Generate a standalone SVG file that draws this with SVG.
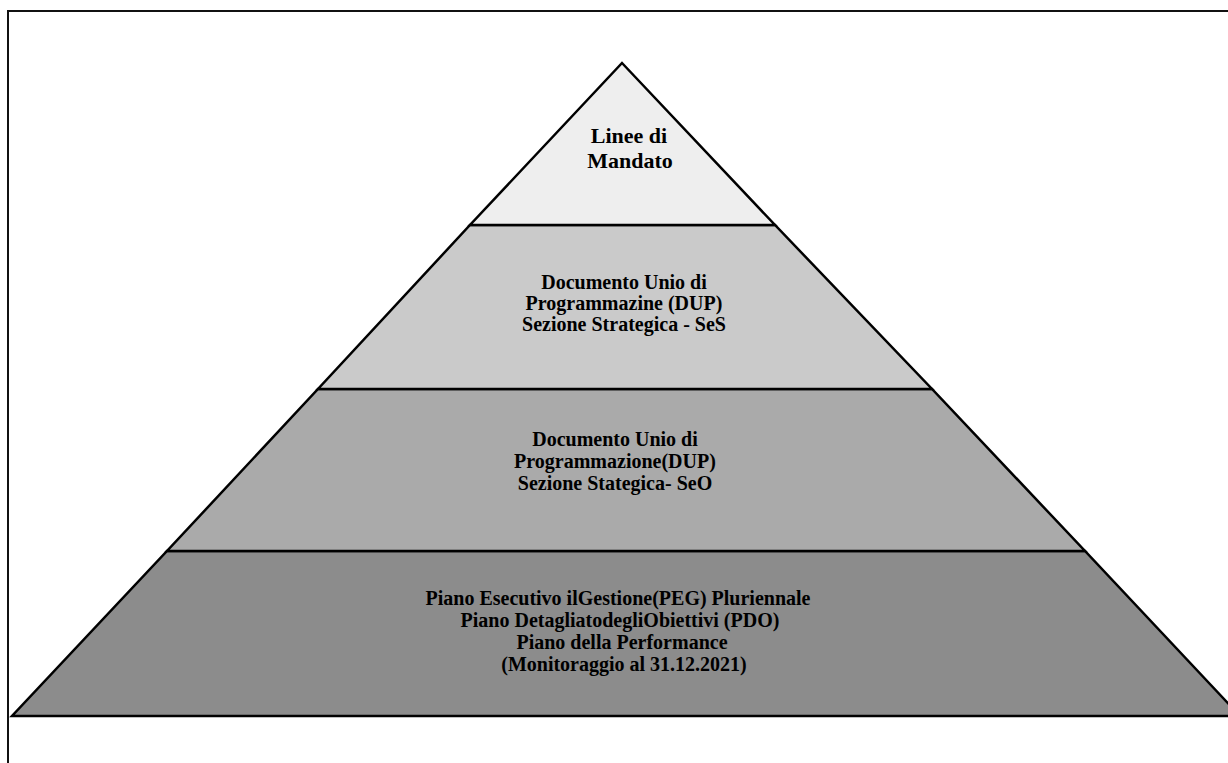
<svg xmlns="http://www.w3.org/2000/svg" width="1228" height="763" viewBox="0 0 1228 763">
  <style>
    .tier { stroke: #000; stroke-width: 2.5; stroke-linejoin: miter; }
    .lbl { font-family: "Liberation Serif", "DejaVu Serif", serif; font-weight: bold; font-size: 20px; fill: #000; text-anchor: middle; }
    .big { font-size: 22px; }
    .frame { stroke: #111; stroke-width: 2; fill: none; }
  </style>
  <rect width="1228" height="763" fill="#fff"/>
  <g id="frame">
    <polyline class="frame" points="8,763 8,11 1228,11"/>
  </g>
  <g id="tier4">
    <polygon class="tier" fill="#8c8c8c" points="167,551 1085,551 1240,716 12,716"/>
    <text class="lbl" x="618" y="605" font-size="21">Piano Esecutivo ilGestione(PEG) Pluriennale</text>
    <text class="lbl" x="620" y="627" font-size="21">Piano DetagliatodegliObiettivi (PDO)</text>
    <text class="lbl" x="622" y="649" font-size="21">Piano della Performance</text>
    <text class="lbl" x="624" y="671" font-size="21">(Monitoraggio al 31.12.2021)</text>
  </g>
  <g id="tier3">
    <polygon class="tier" fill="#aaaaaa" points="318,389 932,389 1085,551 167,551"/>
    <text class="lbl" x="615" y="446">Documento Unio di</text>
    <text class="lbl" x="615" y="468">Programmazione(DUP)</text>
    <text class="lbl" x="615" y="490">Sezione Stategica- SeO</text>
  </g>
  <g id="tier2">
    <polygon class="tier" fill="#cacaca" points="470,225 775,225 932,389 318,389"/>
    <text class="lbl" x="624" y="289">Documento Unio di</text>
    <text class="lbl" x="624" y="310">Programmazine (DUP)</text>
    <text class="lbl" x="624" y="331">Sezione Strategica - SeS</text>
  </g>
  <g id="tier1">
    <polygon class="tier" fill="#eeeeee" points="622,63 775,225 470,225"/>
    <text class="lbl big" x="629" y="143">Linee di</text>
    <text class="lbl big" x="630" y="168">Mandato</text>
  </g>
</svg>
